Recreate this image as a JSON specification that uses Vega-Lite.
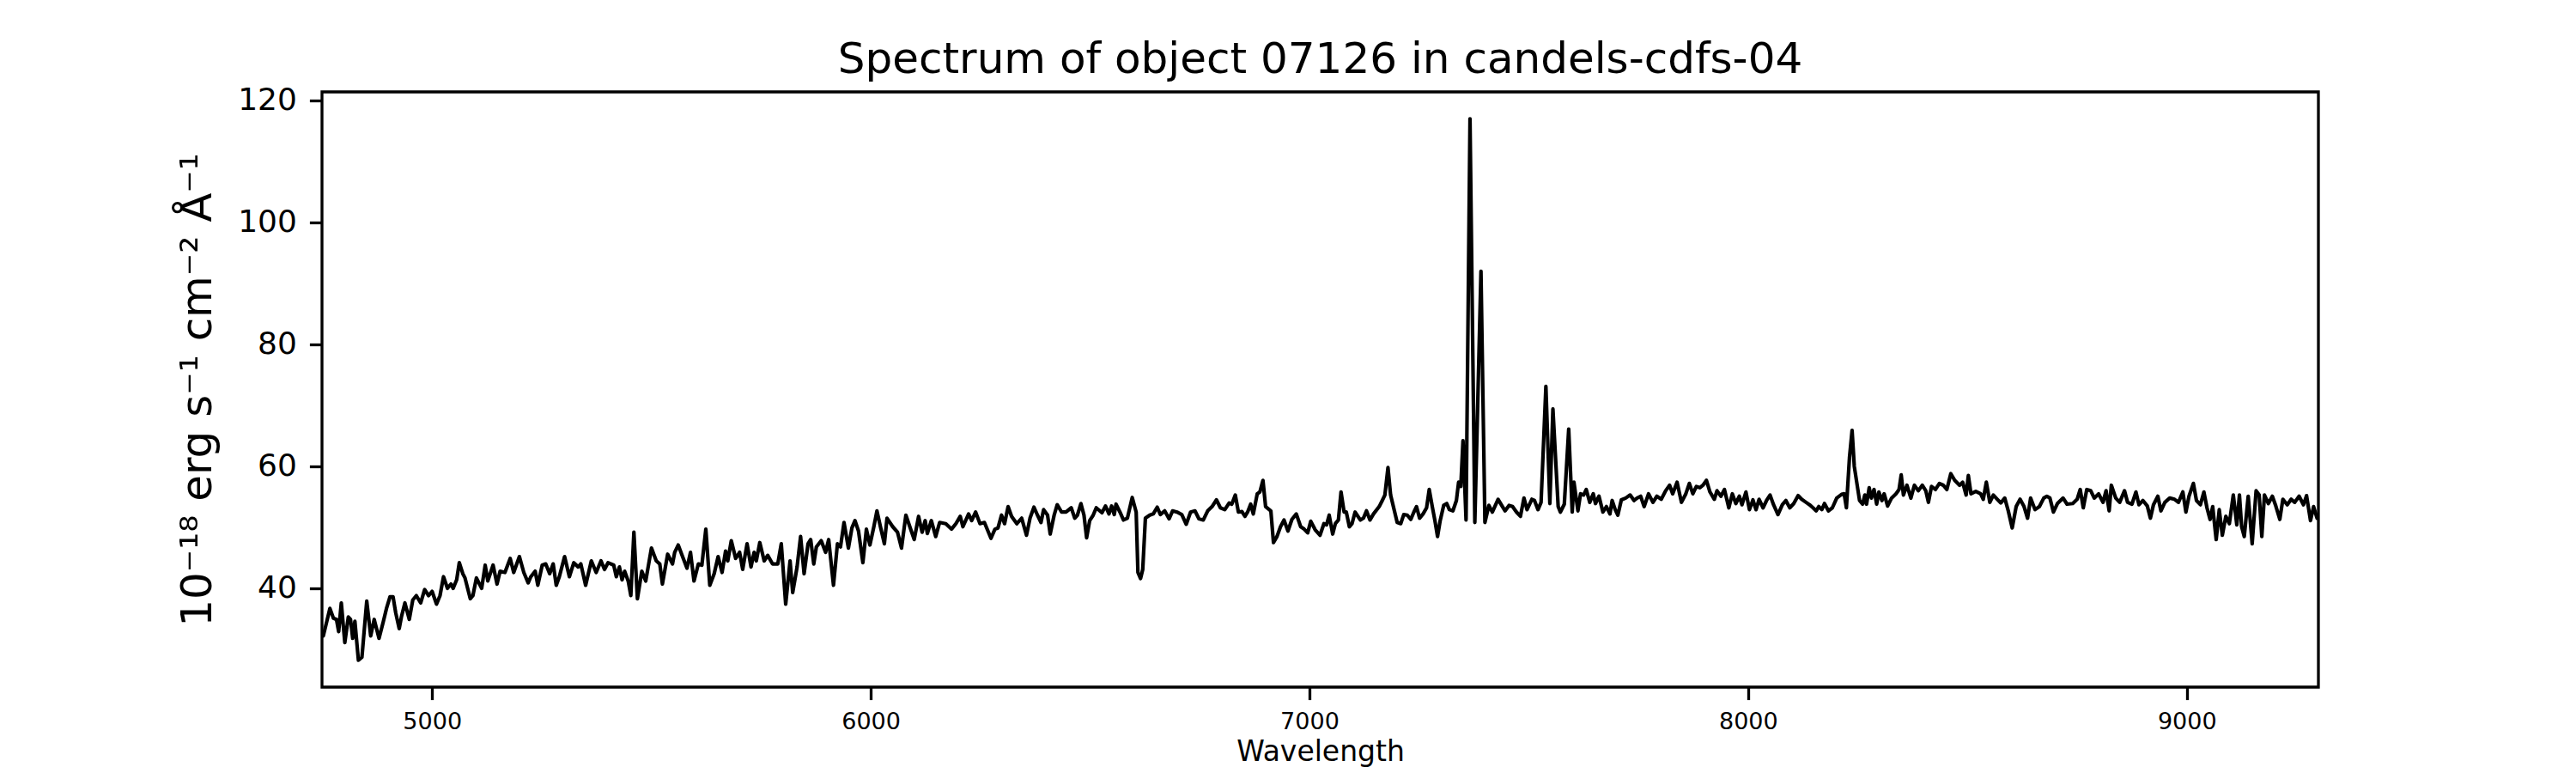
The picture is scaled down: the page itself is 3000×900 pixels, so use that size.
{
"$schema": "https://vega.github.io/schema/vega-lite/v6.json",
"width": 2325, "height": 693,
"autosize": {"type": "none"},
"padding": {"left": 375, "top": 107, "right": 300, "bottom": 100},
"background": "white",
"config": {"font": "DejaVu Sans", "view": {"stroke": "black", "strokeWidth": 3.3}},
"title": {"text": "Spectrum of object 07126 in candels-cdfs-04", "fontSize": 50, "font": "DejaVu Sans", "fontWeight": "normal", "color": "black", "anchor": "middle", "frame": "group", "baseline": "alphabetic", "offset": -36},
"data": {"values": [
{"w":4750,"f":32.4},{"w":4752,"f":32.2},{"w":4767,"f":36.7},{"w":4775,"f":35.1},{"w":4782,"f":34.9},{"w":4787,"f":32.9},{"w":4793,"f":37.6},{"w":4801,"f":31.1},{"w":4809,"f":35.3},{"w":4814,"f":34.9},{"w":4819,"f":31.8},{"w":4824,"f":34.6},{"w":4832,"f":28.2},{"w":4840,"f":28.7},{"w":4851,"f":37.9},{"w":4860,"f":32.2},{"w":4868,"f":34.9},{"w":4879,"f":31.8},{"w":4889,"f":34.6},{"w":4896,"f":36.7},{"w":4904,"f":38.6},{"w":4911,"f":38.6},{"w":4917,"f":36.0},{"w":4925,"f":33.4},{"w":4930,"f":35.3},{"w":4938,"f":37.6},{"w":4948,"f":34.9},{"w":4956,"f":38.1},{"w":4964,"f":38.8},{"w":4974,"f":37.6},{"w":4983,"f":39.8},{"w":4992,"f":38.8},{"w":5000,"f":39.5},{"w":5010,"f":37.4},{"w":5018,"f":38.8},{"w":5026,"f":41.9},{"w":5035,"f":40.0},{"w":5043,"f":40.7},{"w":5048,"f":40.0},{"w":5056,"f":41.4},{"w":5062,"f":44.2},{"w":5070,"f":42.4},{"w":5075,"f":41.7},{"w":5087,"f":38.3},{"w":5093,"f":38.8},{"w":5101,"f":41.7},{"w":5113,"f":40.0},{"w":5121,"f":43.8},{"w":5127,"f":41.2},{"w":5139,"f":43.8},{"w":5148,"f":40.7},{"w":5155,"f":42.8},{"w":5166,"f":42.6},{"w":5178,"f":44.9},{"w":5186,"f":42.6},{"w":5199,"f":45.2},{"w":5209,"f":42.6},{"w":5219,"f":40.9},{"w":5225,"f":41.9},{"w":5235,"f":42.8},{"w":5241,"f":40.5},{"w":5251,"f":43.8},{"w":5259,"f":44.0},{"w":5268,"f":42.4},{"w":5276,"f":44.0},{"w":5283,"f":40.5},{"w":5290,"f":41.9},{"w":5302,"f":45.2},{"w":5313,"f":41.9},{"w":5323,"f":44.2},{"w":5333,"f":43.5},
{"w":5339,"f":44.0},{"w":5350,"f":40.5},{"w":5363,"f":44.5},{"w":5374,"f":42.6},{"w":5385,"f":44.5},{"w":5393,"f":43.1},{"w":5401,"f":44.2},{"w":5414,"f":43.8},{"w":5420,"f":41.9},{"w":5427,"f":43.5},{"w":5433,"f":41.4},{"w":5439,"f":42.8},{"w":5447,"f":41.2},{"w":5453,"f":38.8},{"w":5460,"f":49.2},{"w":5468,"f":38.3},{"w":5478,"f":42.8},{"w":5487,"f":41.2},{"w":5500,"f":46.6},{"w":5511,"f":44.5},{"w":5519,"f":44.0},{"w":5525,"f":40.7},{"w":5537,"f":45.6},{"w":5548,"f":44.0},{"w":5553,"f":45.9},{"w":5561,"f":47.1},{"w":5570,"f":45.4},{"w":5581,"f":43.3},{"w":5589,"f":45.9},{"w":5597,"f":41.2},{"w":5607,"f":44.0},{"w":5615,"f":43.8},{"w":5624,"f":49.7},{"w":5633,"f":40.5},{"w":5643,"f":42.4},{"w":5652,"f":45.2},{"w":5661,"f":42.6},{"w":5669,"f":46.1},{"w":5674,"f":44.5},{"w":5682,"f":47.8},{"w":5692,"f":44.9},{"w":5701,"f":45.9},{"w":5708,"f":43.1},{"w":5718,"f":47.3},{"w":5727,"f":43.5},{"w":5734,"f":45.9},{"w":5739,"f":44.5},{"w":5747,"f":47.5},{"w":5757,"f":44.5},{"w":5765,"f":45.4},{"w":5776,"f":44.0},{"w":5788,"f":44.0},{"w":5796,"f":47.3},{"w":5806,"f":37.4},{"w":5816,"f":44.5},{"w":5822,"f":39.3},{"w":5832,"f":43.5},{"w":5840,"f":48.5},{"w":5848,"f":42.4},{"w":5857,"f":47.3},{"w":5863,"f":48.0},{"w":5870,"f":44.0},{"w":5876,"f":46.8},{"w":5887,"f":47.8},{"w":5897,"f":45.9},{"w":5904,"f":48.0},
{"w":5915,"f":40.5},{"w":5924,"f":47.3},{"w":5931,"f":46.8},{"w":5939,"f":50.8},{"w":5949,"f":46.6},{"w":5957,"f":49.9},{"w":5964,"f":51.1},{"w":5972,"f":49.4},{"w":5982,"f":44.2},{"w":5990,"f":49.7},{"w":5998,"f":47.1},{"w":6007,"f":50.1},{"w":6014,"f":52.7},{"w":6022,"f":50.1},{"w":6031,"f":47.3},{"w":6037,"f":51.5},{"w":6050,"f":50.1},{"w":6061,"f":49.2},{"w":6070,"f":46.6},{"w":6080,"f":52.0},{"w":6089,"f":50.1},{"w":6099,"f":48.0},{"w":6109,"f":51.8},{"w":6117,"f":49.2},{"w":6124,"f":51.1},{"w":6129,"f":49.0},{"w":6138,"f":51.1},{"w":6148,"f":48.5},{"w":6157,"f":50.8},{"w":6171,"f":50.6},{"w":6184,"f":49.7},{"w":6194,"f":50.6},{"w":6204,"f":51.8},{"w":6210,"f":50.1},{"w":6223,"f":52.2},{"w":6230,"f":51.1},{"w":6239,"f":52.5},{"w":6249,"f":50.6},{"w":6259,"f":50.8},{"w":6274,"f":48.2},{"w":6283,"f":49.7},{"w":6290,"f":49.9},{"w":6298,"f":52.0},{"w":6305,"f":50.6},{"w":6313,"f":53.4},{"w":6321,"f":51.8},{"w":6333,"f":50.6},{"w":6344,"f":51.5},{"w":6355,"f":48.7},{"w":6363,"f":51.5},{"w":6372,"f":53.3},{"w":6380,"f":52.0},{"w":6388,"f":50.8},{"w":6394,"f":52.9},{"w":6403,"f":52.0},{"w":6409,"f":48.9},{"w":6418,"f":52.0},{"w":6425,"f":53.7},{"w":6435,"f":52.5},{"w":6445,"f":52.5},{"w":6457,"f":53.2},{"w":6465,"f":51.5},{"w":6471,"f":52.0},
{"w":6479,"f":53.9},{"w":6486,"f":52.0},{"w":6492,"f":48.3},{"w":6499,"f":51.1},{"w":6507,"f":52.0},{"w":6514,"f":53.2},{"w":6527,"f":52.4},{"w":6535,"f":53.5},{"w":6543,"f":52.2},{"w":6549,"f":53.5},{"w":6555,"f":52.1},{"w":6559,"f":53.8},{"w":6568,"f":52.5},{"w":6576,"f":51.2},{"w":6585,"f":51.5},{"w":6596,"f":54.9},{"w":6605,"f":52.5},{"w":6609,"f":42.6},{"w":6615,"f":41.6},{"w":6620,"f":43.1},{"w":6626,"f":51.5},{"w":6636,"f":52.0},{"w":6644,"f":52.2},{"w":6653,"f":53.3},{"w":6660,"f":52.1},{"w":6670,"f":52.7},{"w":6680,"f":51.4},{"w":6688,"f":52.7},{"w":6698,"f":52.5},{"w":6709,"f":52.1},{"w":6719,"f":50.5},{"w":6729,"f":52.5},{"w":6739,"f":52.7},{"w":6748,"f":51.4},{"w":6758,"f":51.2},{"w":6768,"f":52.7},{"w":6778,"f":53.4},{"w":6788,"f":54.5},{"w":6797,"f":53.2},{"w":6807,"f":52.9},{"w":6817,"f":54.0},{"w":6823,"f":53.8},{"w":6831,"f":55.3},{"w":6838,"f":52.5},{"w":6846,"f":52.6},{"w":6853,"f":51.8},{"w":6859,"f":52.5},{"w":6866,"f":53.8},{"w":6872,"f":52.2},{"w":6881,"f":55.5},{"w":6887,"f":55.8},{"w":6894,"f":57.7},{"w":6900,"f":53.4},{"w":6912,"f":52.7},{"w":6918,"f":47.5},{"w":6926,"f":48.5},{"w":6934,"f":50.1},{"w":6942,"f":51.2},{"w":6951,"f":49.4},{"w":6960,"f":51.3},{"w":6970,"f":52.2},{"w":6980,"f":50.1},{"w":6988,"f":49.7},{"w":6996,"f":49.1},{"w":7003,"f":51.0},{"w":7013,"f":49.6},{"w":7024,"f":48.7},{"w":7033,"f":50.6},{"w":7039,"f":50.4},
{"w":7045,"f":52.0},{"w":7053,"f":48.9},{"w":7059,"f":50.6},{"w":7066,"f":51.2},{"w":7072,"f":55.8},{"w":7079,"f":52.5},{"w":7084,"f":52.5},{"w":7091,"f":50.1},{"w":7097,"f":50.6},{"w":7104,"f":52.5},{"w":7116,"f":51.2},{"w":7123,"f":51.5},{"w":7130,"f":52.7},{"w":7138,"f":51.2},{"w":7146,"f":52.2},{"w":7159,"f":53.4},{"w":7166,"f":54.4},{"w":7172,"f":55.3},{"w":7179,"f":59.8},{"w":7185,"f":55.3},{"w":7192,"f":53.2},{"w":7200,"f":50.8},{"w":7208,"f":50.6},{"w":7215,"f":52.1},{"w":7223,"f":52.0},{"w":7231,"f":51.3},{"w":7238,"f":52.5},{"w":7244,"f":53.4},{"w":7251,"f":51.5},{"w":7259,"f":52.2},{"w":7267,"f":53.2},{"w":7273,"f":56.2},{"w":7280,"f":53.4},{"w":7286,"f":51.1},{"w":7292,"f":48.5},{"w":7298,"f":51.1},{"w":7306,"f":53.6},{"w":7313,"f":53.9},{"w":7319,"f":52.9},{"w":7327,"f":52.7},{"w":7335,"f":54.4},{"w":7340,"f":57.4},{"w":7345,"f":56.7},{"w":7350,"f":64.2},{"w":7357,"f":51.2},{"w":7366,"f":117.0},{"w":7377,"f":50.8},{"w":7391,"f":92.0},{"w":7400,"f":50.8},{"w":7409,"f":53.6},{"w":7417,"f":52.5},{"w":7430,"f":54.6},{"w":7440,"f":53.4},{"w":7446,"f":52.7},{"w":7455,"f":53.6},{"w":7463,"f":53.4},{"w":7472,"f":52.5},{"w":7481,"f":51.8},{"w":7489,"f":54.8},{"w":7496,"f":52.9},{"w":7507,"f":54.6},{"w":7513,"f":54.4},{"w":7521,"f":52.9},{"w":7528,"f":54.1},{"w":7539,"f":73.1},{"w":7548,"f":53.9},{"w":7555,"f":69.4},{"w":7567,"f":53.4},{"w":7572,"f":52.5},{"w":7581,"f":53.8},{"w":7591,"f":66.1},
{"w":7599,"f":52.5},{"w":7603,"f":57.4},{"w":7612,"f":52.7},{"w":7618,"f":55.5},{"w":7625,"f":55.3},{"w":7631,"f":56.2},{"w":7639,"f":54.1},{"w":7647,"f":55.5},{"w":7652,"f":53.9},{"w":7660,"f":55.1},{"w":7669,"f":52.5},{"w":7677,"f":53.4},{"w":7685,"f":52.2},{"w":7690,"f":54.4},{"w":7697,"f":52.9},{"w":7703,"f":52.0},{"w":7711,"f":54.5},{"w":7721,"f":54.8},{"w":7731,"f":55.3},{"w":7740,"f":54.4},{"w":7747,"f":54.8},{"w":7755,"f":55.1},{"w":7763,"f":53.4},{"w":7773,"f":55.5},{"w":7783,"f":54.1},{"w":7792,"f":55.1},{"w":7802,"f":54.6},{"w":7812,"f":56.0},{"w":7821,"f":56.9},{"w":7828,"f":55.5},{"w":7838,"f":57.4},{"w":7848,"f":54.1},{"w":7858,"f":55.5},{"w":7866,"f":57.2},{"w":7874,"f":55.5},{"w":7882,"f":56.7},{"w":7890,"f":56.5},{"w":7897,"f":56.9},{"w":7905,"f":57.7},{"w":7913,"f":55.8},{"w":7923,"f":54.6},{"w":7929,"f":56.0},{"w":7938,"f":55.1},{"w":7946,"f":56.2},{"w":7956,"f":53.2},{"w":7964,"f":55.5},{"w":7972,"f":53.9},{"w":7980,"f":55.1},{"w":7986,"f":53.7},{"w":7995,"f":55.8},{"w":8003,"f":52.9},{"w":8011,"f":54.5},{"w":8018,"f":52.9},{"w":8025,"f":54.6},{"w":8034,"f":53.2},{"w":8042,"f":54.4},{"w":8050,"f":55.3},{"w":8058,"f":53.7},{"w":8068,"f":52.1},{"w":8078,"f":53.7},{"w":8086,"f":54.4},{"w":8095,"f":53.2},{"w":8104,"f":53.9},{"w":8114,"f":55.2},{"w":8122,"f":54.6},{"w":8132,"f":54.1},{"w":8140,"f":53.7},{"w":8148,"f":53.2},{"w":8155,"f":52.7},{"w":8161,"f":53.4},{"w":8168,"f":52.9},{"w":8174,"f":53.9},
{"w":8183,"f":52.7},{"w":8192,"f":53.2},{"w":8202,"f":54.8},{"w":8213,"f":55.4},{"w":8219,"f":55.5},{"w":8224,"f":53.2},{"w":8231,"f":61.4},{"w":8237,"f":65.9},{"w":8242,"f":60.0},{"w":8254,"f":54.4},{"w":8261,"f":53.8},{"w":8266,"f":55.3},{"w":8270,"f":53.8},{"w":8276,"f":56.5},{"w":8281,"f":54.8},{"w":8287,"f":56.2},{"w":8293,"f":53.8},{"w":8298,"f":55.8},{"w":8305,"f":54.4},{"w":8310,"f":55.5},{"w":8318,"f":53.5},{"w":8327,"f":54.8},{"w":8337,"f":55.5},{"w":8344,"f":56.2},{"w":8349,"f":58.6},{"w":8354,"f":55.3},{"w":8362,"f":56.9},{"w":8371,"f":54.8},{"w":8379,"f":56.9},{"w":8388,"f":56.0},{"w":8397,"f":56.9},{"w":8405,"f":56.0},{"w":8411,"f":54.1},{"w":8418,"f":56.7},{"w":8427,"f":56.2},{"w":8436,"f":57.2},{"w":8445,"f":56.9},{"w":8453,"f":56.2},{"w":8462,"f":58.8},{"w":8471,"f":57.7},{"w":8482,"f":56.9},{"w":8489,"f":57.4},{"w":8497,"f":55.3},{"w":8502,"f":58.5},{"w":8508,"f":55.5},{"w":8519,"f":55.9},{"w":8530,"f":55.5},{"w":8536,"f":54.6},{"w":8543,"f":57.4},{"w":8551,"f":54.1},{"w":8559,"f":55.3},{"w":8568,"f":54.6},{"w":8576,"f":54.0},{"w":8585,"f":54.8},{"w":8593,"f":52.7},{"w":8602,"f":49.9},{"w":8611,"f":53.4},{"w":8620,"f":54.6},{"w":8629,"f":53.4},{"w":8637,"f":51.5},{"w":8644,"f":54.8},{"w":8654,"f":52.9},{"w":8664,"f":53.4},{"w":8674,"f":54.8},{"w":8681,"f":55.1},{"w":8688,"f":54.8},{"w":8696,"f":52.5},{"w":8705,"f":53.9},{"w":8718,"f":54.8},{"w":8727,"f":53.8},{"w":8740,"f":53.9},{"w":8750,"f":54.6},{"w":8757,"f":56.2},{"w":8764,"f":53.2},{"w":8772,"f":56.2},{"w":8781,"f":56.0},{"w":8789,"f":54.8},{"w":8799,"f":55.5},{"w":8809,"f":54.1},{"w":8816,"f":56.0},{"w":8823,"f":52.7},{"w":8828,"f":56.9},{"w":8838,"f":54.8},{"w":8847,"f":54.1},{"w":8858,"f":56.0},{"w":8865,"f":54.1},{"w":8875,"f":53.8},{"w":8884,"f":55.8},{"w":8891,"f":53.7},{"w":8900,"f":54.4},{"w":8910,"f":53.5},{"w":8917,"f":51.5},{"w":8924,"f":53.7},{"w":8934,"f":55.1},{"w":8941,"f":52.7},{"w":8950,"f":54.1},{"w":8961,"f":54.8},{"w":8972,"f":54.6},{"w":8981,"f":54.1},{"w":8991,"f":55.8},{"w":8998,"f":52.5},{"w":9005,"f":55.1},{"w":9015,"f":57.2},{"w":9022,"f":54.4},{"w":9031,"f":53.7},{"w":9039,"f":55.8},{"w":9046,"f":53.2},{"w":9053,"f":51.3},{"w":9059,"f":53.4},{"w":9067,"f":48.0},{"w":9074,"f":52.9},{"w":9081,"f":48.7},{"w":9089,"f":51.8},{"w":9097,"f":50.6},{"w":9106,"f":55.3},{"w":9114,"f":50.4},{"w":9120,"f":55.3},{"w":9125,"f":50.1},{"w":9131,"f":48.5},{"w":9140,"f":55.1},{"w":9149,"f":47.3},{"w":9158,"f":56.0},{"w":9165,"f":55.3},{"w":9171,"f":48.5},{"w":9177,"f":55.3},{"w":9186,"f":53.9},{"w":9195,"f":55.1},{"w":9202,"f":53.7},{"w":9212,"f":51.3},{"w":9219,"f":54.6},{"w":9229,"f":53.7},{"w":9238,"f":54.6},{"w":9246,"f":54.1},{"w":9256,"f":55.1},{"w":9266,"f":53.7},{"w":9273,"f":55.2},{"w":9282,"f":51.1},{"w":9289,"f":53.4},{"w":9297,"f":51.5},{"w":9300,"f":52.0}
]},
"mark": {"type": "line", "color": "black", "strokeWidth": 4.2, "interpolate": "linear", "strokeJoin": "round", "clip": true},
"encoding": {
"x": {"field": "w", "type": "quantitative", "scale": {"domain": [4749, 9300], "nice": false, "zero": false},
"axis": {"values": [5000, 6000, 7000, 8000, 9000], "format": "d", "grid": false, "domain": false, "ticks": true, "tickColor": "black", "tickWidth": 3.3, "tickSize": 14.6, "labelFont": "DejaVu Sans", "labelFontSize": 27, "labelColor": "black", "labelPadding": 13, "labelFlush": false, "labelOverlap": false, "labelBound": false,
"title": "Wavelength", "titleFont": "DejaVu Sans", "titleFontSize": 33, "titleFontWeight": "normal", "titleColor": "black", "titleX": 1162.5, "titleY": 85, "titleBaseline": "alphabetic", "titleAlign": "center", "titleAnchor": null}},
"y": {"field": "f", "type": "quantitative", "scale": {"domain": [23.8, 121.4], "nice": false, "zero": false},
"axis": {"values": [40, 60, 80, 100, 120], "format": "d", "grid": false, "domain": false, "ticks": true, "tickColor": "black", "tickWidth": 3.3, "tickSize": 14.6, "labelFont": "DejaVu Sans", "labelFontSize": 36, "labelColor": "black", "labelPadding": 15, "labelFlush": false, "labelOverlap": false, "labelBound": false,
"title": "10⁻¹⁸ erg s⁻¹ cm⁻² Å⁻¹", "titleFont": "DejaVu Sans", "titleFontSize": 50, "titleFontWeight": "normal", "titleColor": "black", "titleX": -130, "titleY": 346.5, "titleAngle": -90, "titleBaseline": "alphabetic", "titleAlign": "center", "titleAnchor": null}}
}
}
